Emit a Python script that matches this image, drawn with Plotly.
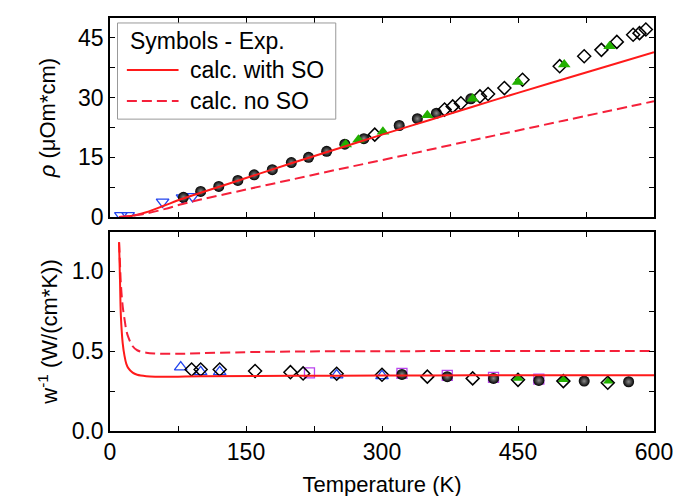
import plotly.graph_objects as go
from plotly.subplots import make_subplots

# ---------- top panel: resistivity ----------
T_calc_so = [10, 20, 30, 40, 60, 80, 100, 150, 200, 250, 300, 350, 400, 450, 500, 550, 600]
rho_calc_so = [0, 0.2, 0.6, 1.2, 2.9, 4.6, 6.1, 9.8, 13.5, 17.1, 20.7, 24.2, 27.7, 31.2, 34.6, 38.0, 41.4]
T_calc_noso = [10, 20, 30, 40, 60, 80, 100, 150, 200, 250, 300, 400, 500, 600]
rho_calc_noso = [0, 0.2, 0.5, 0.9, 2.0, 3.3, 4.4, 6.9, 9.4, 11.9, 14.3, 19.3, 24.2, 29.1]

T_rho_sph = [81, 100, 120, 141, 159, 179, 200, 219, 239, 259, 280, 319, 339, 360, 398]
rho_sph = [4.95, 6.45, 7.7, 9.2, 10.6, 11.9, 13.7, 15.0, 16.5, 18.3, 19.7, 23.0, 24.7, 26.1, 29.7]
T_rho_dia = [292, 369, 378, 387, 408, 417, 435, 455, 496, 523, 542, 559, 577, 584, 591]
rho_dia = [20.7, 27.0, 27.8, 28.6, 30.3, 30.9, 32.4, 34.5, 37.9, 40.4, 42.0, 44.0, 45.8, 46.2, 47.1]
T_rho_tri = [260, 274, 301, 350, 400, 450, 501, 551]
rho_tri = [18.2, 19.4, 21.4, 25.6, 29.7, 33.9, 38.3, 42.9]
T_rho_blue = [12, 20, 58, 80, 91]
rho_blue = [0.4, 0.4, 3.8, 4.9, 5.2]

# ---------- bottom panel: thermal resistivity ----------
T_w_so = [10, 11, 12, 14, 16, 18, 20, 25, 30, 40, 50, 75, 100, 200, 300, 400, 500, 600]
w_so = [1.18, 0.95, 0.72, 0.55, 0.47, 0.42, 0.395, 0.365, 0.352, 0.343, 0.34, 0.34, 0.342, 0.345, 0.347, 0.348, 0.348, 0.348]
T_w_noso = [10, 11, 12, 14, 16, 18, 20, 25, 30, 40, 50, 75, 100, 150, 200, 300, 400, 500, 600]
w_noso = [1.18, 1.05, 0.92, 0.78, 0.70, 0.63, 0.59, 0.53, 0.505, 0.49, 0.485, 0.483, 0.487, 0.493, 0.497, 0.499, 0.5, 0.5, 0.5]

T_w_blue = [78, 100, 121, 250, 300]
w_blue = [0.40, 0.37, 0.37, 0.35, 0.345]
T_w_sq = [220, 322, 372, 423, 473]
w_sq = [0.364, 0.36, 0.348, 0.335, 0.325]
T_w_tri = [450, 500, 550]
w_tri = [0.33, 0.322, 0.312]
T_w_dia = [90, 100, 121, 160, 199, 213, 250, 300, 350, 400, 450, 500, 549]
w_dia = [0.385, 0.385, 0.385, 0.375, 0.368, 0.36, 0.358, 0.352, 0.34, 0.329, 0.32, 0.312, 0.302]
T_w_sph = [322, 372, 423, 473, 523, 572]
w_sph = [0.354, 0.34, 0.329, 0.316, 0.312, 0.308]

legend_title = "Symbols - Exp."
legend_labels = ["calc. with SO", "calc. no SO"]

RED = "#ff1a1a"
RED_D = "#f5203a"
GREEN = "#22b000"
BLUE = "#2244ee"
PURPLE = "#bb44ee"
FONT = "Arial, Liberation Sans, sans-serif"
DASH = "10px,5px"

fig = make_subplots(rows=2, cols=1, shared_xaxes=False, vertical_spacing=0.036)

sph = dict(symbol="circle", size=11, color="black",
           gradient=dict(type="radial", color="#8a8a8a"),
           line=dict(width=0))
dia = dict(symbol="diamond-open", size=10, color="black", line=dict(width=1.5))

# top panel markers
fig.add_trace(go.Scatter(x=T_rho_blue, y=rho_blue, mode="markers",
                         marker=dict(symbol="triangle-down-open", size=11, color=BLUE, line=dict(width=1.3))), 1, 1)
fig.add_trace(go.Scatter(x=T_rho_sph, y=rho_sph, mode="markers", marker=sph), 1, 1)
fig.add_trace(go.Scatter(x=T_rho_dia, y=rho_dia, mode="markers", marker=dia), 1, 1)
fig.add_trace(go.Scatter(x=T_rho_tri, y=rho_tri, mode="markers",
                         marker=dict(symbol="triangle-up", size=11, color=GREEN, line=dict(width=0))), 1, 1)
# top panel lines
fig.add_trace(go.Scatter(x=T_calc_so, y=rho_calc_so, mode="lines", name=legend_labels[0],
                         line=dict(color=RED, width=2), line_shape="spline"), 1, 1)
fig.add_trace(go.Scatter(x=T_calc_noso, y=rho_calc_noso, mode="lines", name=legend_labels[1],
                         line=dict(color=RED_D, width=2, dash=DASH), line_shape="spline"), 1, 1)

# bottom panel markers
fig.add_trace(go.Scatter(x=T_w_blue, y=w_blue, mode="markers",
                         marker=dict(symbol="triangle-up-open", size=11, color=BLUE, line=dict(width=1.3))), 2, 1)
fig.add_trace(go.Scatter(x=T_w_sq, y=w_sq, mode="markers",
                         marker=dict(symbol="square-open", size=10, color=PURPLE, line=dict(width=1.3))), 2, 1)
fig.add_trace(go.Scatter(x=T_w_tri, y=w_tri, mode="markers",
                         marker=dict(symbol="triangle-up", size=10, color=GREEN, line=dict(width=0))), 2, 1)
fig.add_trace(go.Scatter(x=T_w_dia, y=w_dia, mode="markers", marker=dia), 2, 1)
fig.add_trace(go.Scatter(x=T_w_sph, y=w_sph, mode="markers", marker=sph), 2, 1)
# bottom panel lines
fig.add_trace(go.Scatter(x=T_w_noso, y=w_noso, mode="lines",
                         line=dict(color=RED_D, width=2, dash=DASH), line_shape="spline"), 2, 1)
fig.add_trace(go.Scatter(x=T_w_so, y=w_so, mode="lines",
                         line=dict(color=RED, width=2), line_shape="spline"), 2, 1)

axis_common = dict(showline=True, linecolor="black", linewidth=1.5, mirror="allticks",
                   ticks="inside", ticklen=5, tickwidth=1.3, tickcolor="black",
                   showgrid=False, zeroline=False, automargin=False,
                   tickfont=dict(family=FONT, size=23, color="black"))
minor_common = dict(ticks="inside", ticklen=5, tickwidth=1.3, tickcolor="black")

fig.update_xaxes(**axis_common, range=[0, 600], dtick=150, minor=dict(dtick=75, **minor_common))
fig.update_xaxes(showticklabels=False, row=1, col=1)
fig.update_xaxes(title=dict(text="Temperature (K)", font=dict(family=FONT, size=22, color="black"), standoff=12),
                 row=2, col=1)

fig.update_yaxes(**axis_common)
fig.update_yaxes(range=[0, 50], tickvals=[0, 15, 30, 45],
                 minor=dict(dtick=7.5, **minor_common),
                 title=dict(text="<i>ρ</i> (μOm*cm)", font=dict(family=FONT, size=22, color="black"), standoff=16),
                 row=1, col=1)
fig.update_yaxes(range=[0, 1.245], tickvals=[0, 0.5, 1.0], ticktext=["0.0", "0.5", "1.0"],
                 minor=dict(dtick=0.25, **minor_common),
                 title=dict(text="w<sup>-1</sup> (W/(cm*K))", font=dict(family=FONT, size=22, color="black"), standoff=8),
                 row=2, col=1)

# legend drawn as a boxed key inside the top panel
box = dict(xref="x domain", yref="y domain")
shapes = [
    dict(type="rect", x0=0.0138, x1=0.415, y0=0.492, y1=0.975, line=dict(color="#999999", width=1),
         fillcolor="white", layer="above", **box),
    dict(type="line", x0=0.031, x1=0.126, y0=0.739, y1=0.739, line=dict(color=RED, width=2), layer="above", **box),
    dict(type="line", x0=0.031, x1=0.126, y0=0.583, y1=0.583, line=dict(color=RED_D, width=2, dash=DASH),
         layer="above", **box),
]
annotations = [
    dict(text=legend_title, x=0.0335, y=0.884, xanchor="left", yanchor="middle", showarrow=False,
         font=dict(family=FONT, size=23, color="black"), **box),
    dict(text=legend_labels[0], x=0.1426, y=0.739, xanchor="left", yanchor="middle", showarrow=False,
         font=dict(family=FONT, size=23, color="black"), **box),
    dict(text=legend_labels[1], x=0.1426, y=0.583, xanchor="left", yanchor="middle", showarrow=False,
         font=dict(family=FONT, size=23, color="black"), **box),
]

fig.update_layout(
    width=681, height=496,
    margin=dict(l=102, r=35, t=10, b=73),
    paper_bgcolor="white", plot_bgcolor="white",
    font=dict(family=FONT, size=22, color="black"),
    showlegend=False,
    shapes=shapes, annotations=annotations,
)
fig.layout.yaxis.domain = [0.518, 1.0]
fig.layout.yaxis2.domain = [0.0, 0.482]

fig.write_html("out.html")
